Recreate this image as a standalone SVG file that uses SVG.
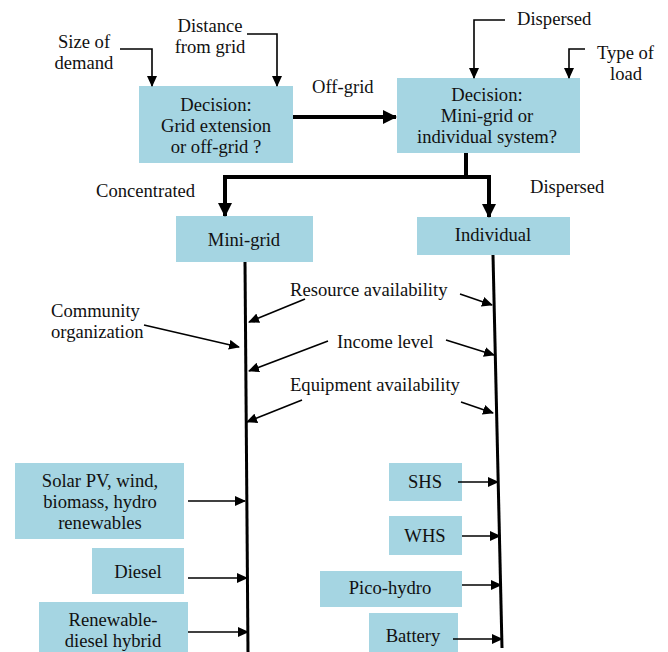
<svg xmlns="http://www.w3.org/2000/svg" width="668" height="652" viewBox="0 0 668 652">
<defs>
<style>
.box{fill:#a5d5e2;stroke:none}
text{font-family:"Liberation Serif","Times New Roman",serif;font-size:18.6px;fill:#111}
.c{text-anchor:middle}
.thin{stroke:#000;stroke-width:1.6;fill:none}
.thick{stroke:#000;stroke-width:4;fill:none}
.stem{stroke:#000;stroke-width:3;fill:none}
</style>
<marker id="ah" markerUnits="userSpaceOnUse" markerWidth="11" markerHeight="10" refX="10" refY="5" orient="auto"><path d="M0,0 L11,5 L0,10 Z" fill="#000"/></marker>
<marker id="ahb" markerUnits="userSpaceOnUse" markerWidth="14" markerHeight="14" refX="13" refY="7" orient="auto"><path d="M0,0 L14,7 L0,14 Z" fill="#000"/></marker>
</defs>
<rect width="668" height="652" fill="#fff"/>

<g id="decision1"><rect class="box" x="139" y="86" width="154" height="77"/>
<text class="c" x="216" y="111">Decision:</text><text class="c" x="216" y="132">Grid extension</text><text class="c" x="216" y="153">or off-grid ?</text></g>
<g id="decision2"><rect class="box" x="397" y="78" width="183" height="75"/>
<text class="c" x="487" y="101">Decision:</text><text class="c" x="487" y="122">Mini-grid or</text><text class="c" x="487" y="143">individual system?</text></g>
<g id="size"><text class="c" x="84" y="48">Size of</text><text class="c" x="84" y="69">demand</text></g>
<g id="distance"><text class="c" x="210" y="32">Distance</text><text class="c" x="210" y="53">from grid</text></g>
<g id="dispersed-top"><text x="517" y="25">Dispersed</text></g>
<g id="typeload"><text x="597" y="59">Type of</text><text class="c" x="626" y="80">load</text></g>
<g id="labels"><text x="312" y="93">Off-grid</text><text x="96" y="197">Concentrated</text><text x="530" y="193">Dispersed</text></g>

<g id="minigrid"><rect class="box" x="176" y="216" width="137" height="46"/><text class="c" x="244" y="246">Mini-grid</text></g>
<g id="individual"><rect class="box" x="417" y="217" width="153" height="38"/><text class="c" x="493" y="241">Individual</text></g>

<g id="factors"><text x="290" y="296">Resource availability</text><text x="337" y="348">Income level</text><text x="290" y="391">Equipment availability</text>
<text x="51" y="317">Community</text><text x="51" y="338">organization</text></g>

<g id="solar"><rect class="box" x="15" y="463" width="169" height="76"/><text class="c" x="100" y="487">Solar PV, wind,</text><text class="c" x="100" y="508">biomass, hydro</text><text class="c" x="100" y="529">renewables</text></g>
<g id="diesel"><rect class="box" x="92" y="548" width="92" height="46"/><text class="c" x="138" y="578">Diesel</text></g>
<g id="hybrid"><rect class="box" x="39" y="602" width="149" height="52"/><text class="c" x="113" y="626">Renewable-</text><text class="c" x="113" y="647">diesel hybrid</text></g>
<g id="shs"><rect class="box" x="389" y="463" width="73" height="38"/><text class="c" x="425" y="488">SHS</text></g>
<g id="whs"><rect class="box" x="389" y="516" width="73" height="39"/><text class="c" x="425" y="542">WHS</text></g>
<g id="pico"><rect class="box" x="320" y="571" width="142" height="36"/><text class="c" x="390" y="594">Pico-hydro</text></g>
<g id="battery"><rect class="box" x="369" y="613" width="89" height="41"/><text class="c" x="413" y="642">Battery</text></g>

<g id="connectors">
<polyline class="thin" points="120,49 152,49 152,86" marker-end="url(#ah)"/>
<polyline class="thin" points="247,34 277,34 277,86" marker-end="url(#ah)"/>
<polyline class="thin" points="505,20 474,20 474,78" marker-end="url(#ah)"/>
<polyline class="thin" points="585,49 569,49 569,78" marker-end="url(#ah)"/>
<line class="thick" x1="293" y1="117" x2="396" y2="117" marker-end="url(#ahb)"/>
<line class="thick" x1="466" y1="153" x2="466" y2="177"/>
<polyline class="thick" points="225,216 225,177 489,177 489,217" marker-end="url(#ahb)"/>
<line class="thick" x1="225" y1="190" x2="225" y2="216" marker-end="url(#ahb)"/>
<line class="stem" x1="245" y1="262" x2="248" y2="652"/>
<line class="stem" x1="493" y1="255" x2="502" y2="648"/>
<line class="thin" x1="305" y1="299" x2="249" y2="322" marker-end="url(#ah)"/>
<line class="thin" x1="460" y1="294" x2="492" y2="305" marker-end="url(#ah)"/>
<line class="thin" x1="144" y1="325" x2="239" y2="347" marker-end="url(#ah)"/>
<line class="thin" x1="328" y1="341" x2="249" y2="371" marker-end="url(#ah)"/>
<line class="thin" x1="446" y1="340" x2="494" y2="355" marker-end="url(#ah)"/>
<line class="thin" x1="302" y1="400" x2="247" y2="422" marker-end="url(#ah)"/>
<line class="thin" x1="461" y1="402" x2="493" y2="413" marker-end="url(#ah)"/>
<line class="thin" x1="188" y1="501" x2="245" y2="501" marker-end="url(#ah)"/>
<line class="thin" x1="188" y1="578" x2="247" y2="578" marker-end="url(#ah)"/>
<line class="thin" x1="188" y1="632" x2="248" y2="632" marker-end="url(#ah)"/>
<line class="thin" x1="458" y1="482" x2="498" y2="482" marker-end="url(#ah)"/>
<line class="thin" x1="462" y1="536" x2="500" y2="536" marker-end="url(#ah)"/>
<line class="thin" x1="462" y1="585" x2="501" y2="585" marker-end="url(#ah)"/>
<line class="thin" x1="453" y1="639" x2="502" y2="639" marker-end="url(#ah)"/>
</g>
</svg>
